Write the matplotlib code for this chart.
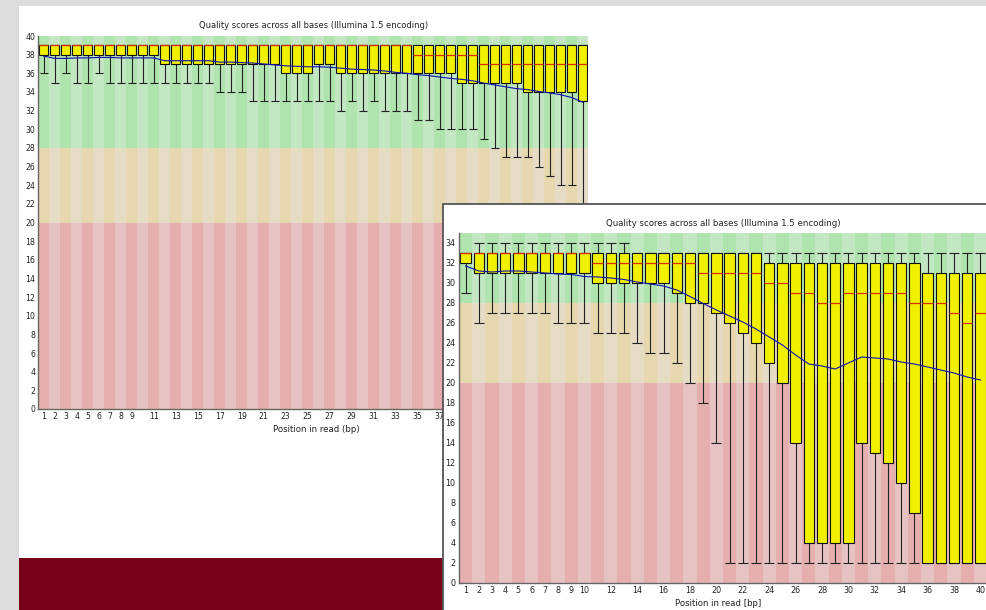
import matplotlib
matplotlib.use("Agg")
import matplotlib.pyplot as plt
from matplotlib.patches import Rectangle
import numpy as np

W, H = 986, 610  # output size in pixels (dpi 100)

TITLE = "Quality scores across all bases (Illumina 1.5 encoding)"

# ---------------------------------------------------------------------------
# Back report: 50 positions, Phred 0-40
# ---------------------------------------------------------------------------
r1_labels = ["1", "2", "3", "4", "5", "6", "7", "8", "9", "11", "13", "15", "17", "19",
             "21", "23", "25", "27", "29", "31", "33", "35", "37", "39", "41", "43", "45",
             "47", "49"]
r1_q3 = [39, 39, 39, 39, 39, 39, 39, 39, 39, 39, 39, 39, 39, 39, 39, 39, 39, 39, 39, 39, 39,
         39, 39, 39, 39, 39, 39, 39, 39, 39, 39, 39, 39, 39, 39, 39, 39, 39, 39, 39, 39, 39,
         39, 39, 39, 39, 39, 39, 39, 39]
r1_q1 = [38, 38, 38, 38, 38, 38, 38, 38, 38, 38, 38, 37, 37, 37, 37, 37, 37, 37, 37, 37, 37,
         37, 36, 36, 36, 37, 37, 36, 36, 36, 36, 36, 36, 36, 36, 36, 36, 36, 35, 35, 35, 35,
         35, 35, 34, 34, 34, 34, 34, 33]
r1_med = [39, 39, 39, 39, 39, 39, 39, 39, 39, 39, 39, 39, 39, 39, 39, 39, 39, 39, 39, 39, 39,
          39, 39, 39, 39, 39, 39, 39, 39, 39, 39, 39, 39, 39, 38, 38, 38, 38, 38, 38, 37, 37,
          37, 37, 37, 37, 37, 37, 37, 37]
r1_low = [36, 35, 36, 35, 35, 36, 35, 35, 35, 35, 35, 35, 35, 35, 35, 35, 34, 34, 34, 33, 33,
          33, 33, 33, 33, 33, 33, 32, 33, 32, 33, 32, 32, 32, 31, 31, 30, 30, 30, 30, 29, 28,
          27, 27, 27, 26, 25, 24, 24, 22]
r1_high = r1_q3
r1_mean = [37.85, 37.6, 37.6, 37.65, 37.65, 37.7, 37.7, 37.65, 37.65, 37.65, 37.65, 37.35,
           37.35, 37.35, 37.35, 37.35, 37.2, 37.2, 37.15, 37.1, 37.0, 36.9, 36.8, 36.75, 36.7,
           36.7, 36.65, 36.55, 36.45, 36.4, 36.35, 36.25, 36.1, 36.0, 35.85, 35.75, 35.6,
           35.45, 35.35, 35.2, 34.95, 34.75, 34.55, 34.35, 34.25, 34.05, 33.9, 33.7, 33.4, 32.9]

# ---------------------------------------------------------------------------
# Front report: 40 positions, Phred 0-35
# ---------------------------------------------------------------------------
r2_labels = ["1", "2", "3", "4", "5", "6", "7", "8", "9", "10", "12", "14", "16", "18", "20",
             "22", "24", "26", "28", "30", "32", "34", "36", "38", "40"]
r2_q3 = [33, 33, 33, 33, 33, 33, 33, 33, 33, 33, 33, 33, 33, 33, 33, 33, 33, 33, 33, 33, 33,
         33, 33, 32, 32, 32, 32, 32, 32, 32, 32, 32, 32, 32, 32, 31, 31, 31, 31, 31]
r2_q1 = [32, 31, 31, 31, 31, 31, 31, 31, 31, 31, 30, 30, 30, 30, 30, 30, 29, 28, 28, 27, 26,
         25, 24, 22, 20, 14, 4, 4, 4, 4, 14, 13, 12, 10, 7, 2, 2, 2, 2, 2]
r2_med = [33, 33, 33, 33, 33, 33, 33, 33, 33, 33, 32, 32, 32, 32, 32, 32, 32, 32, 31, 31, 31,
          31, 31, 30, 30, 29, 29, 28, 28, 29, 29, 29, 29, 29, 28, 28, 28, 27, 26, 27]
r2_low = [29, 26, 27, 27, 27, 27, 27, 26, 26, 26, 25, 25, 25, 24, 23, 23, 22, 20, 18, 14, 2,
          2, 2, 2, 2, 2, 2, 2, 2, 2, 2, 2, 2, 2, 2, 2, 2, 2, 2, 2]
r2_high = [33, 34, 34, 34, 34, 34, 34, 34, 34, 34, 34, 34, 34, 33, 33, 33, 33, 33, 33, 33, 33,
           33, 33, 33, 33, 33, 33, 33, 33, 33, 33, 33, 33, 33, 33, 33, 33, 33, 33, 33]
r2_mean = [31.7, 31.2, 31.1, 31.2, 31.2, 31.1, 31.0, 30.9, 30.85, 30.65, 30.6, 30.5, 30.35,
           30.1, 29.9, 29.7, 29.3, 28.65, 27.95, 27.3, 26.7, 26.1, 25.4, 24.6, 23.8, 22.8,
           21.9, 21.7, 21.4, 22.0, 22.6, 22.5, 22.4, 22.1, 21.9, 21.6, 21.3, 21.0, 20.6, 20.3]

# FastQC background bands: (lower, upper, dark colour, light colour)
BANDS = [(0, 20, "#e6afaf", "#e6c3c3"),
         (20, 28, "#e6d7af", "#e6dcc6"),
         (28, 99, "#afe4af", "#c3e6c3")]


def px_axes(fig, x0, y0, x1, y1):
    """Axes placed by pixel box (top-left origin)."""
    return fig.add_axes([x0 / W, 1 - y1 / H, (x1 - x0) / W, (y1 - y0) / H])


def draw_report(ax, q1, q3, med, low, high, mean, labels, ymax, fs, tick_pad):
    n = len(q1)
    pos = np.arange(1, n + 1)

    for lo, hi, dark, light in BANDS:
        top = min(hi, ymax)
        cols = [dark if p % 2 == 1 else light for p in pos]
        ax.bar(pos, top - lo, bottom=lo, width=1.0, color=cols, linewidth=0, zorder=0)

    q1 = np.array(q1)
    q3 = np.array(q3)
    ax.vlines(pos, low, q1, color="#222222", lw=0.8, zorder=1)
    ax.vlines(pos, q3, high, color="#222222", lw=0.8, zorder=1)
    ax.hlines(low, pos - 0.38, pos + 0.38, color="#222222", lw=0.8, zorder=1)
    ax.hlines(high, pos - 0.38, pos + 0.38, color="#222222", lw=0.8, zorder=1)

    ax.bar(pos, q3 - q1, bottom=q1, width=0.78, color="#f0f000",
           edgecolor="#111111", linewidth=0.8, zorder=2)
    ax.hlines(med, pos - 0.39, pos + 0.39, color="#d83000", lw=0.9, zorder=3)
    ax.plot(pos, mean, color="#1010b0", lw=0.8, zorder=4)

    ax.set_xlim(0.5, n + 0.5)
    ax.set_ylim(0, ymax)
    ax.set_xticks([int(t) for t in labels])
    ax.set_xticklabels(labels, fontsize=fs)
    ax.set_yticks(np.arange(0, ymax + 1, 2))
    ax.tick_params(length=0, labelsize=fs, colors="#222222")
    ax.tick_params(axis="x", pad=tick_pad[0])
    ax.tick_params(axis="y", pad=tick_pad[1])
    for side in ("top", "right"):
        ax.spines[side].set_visible(False)
    for side in ("left", "bottom"):
        ax.spines[side].set_color("#666666")
        ax.spines[side].set_linewidth(1.0)
    ax.set_facecolor("white")


fig = plt.figure(figsize=(W / 100, H / 100), dpi=100)
fig.patch.set_facecolor("#dcdcdc")

# page-like white panel and the dark red footer strip
fig.add_artist(Rectangle((19 / W, 1 - 558 / H), 1, (558 - 6) / H, transform=fig.transFigure,
                         facecolor="white", edgecolor="none", zorder=0.1))
fig.add_artist(Rectangle((19 / W, 0), 1, (610 - 558) / H, transform=fig.transFigure,
                         facecolor="#78001a", edgecolor="none", zorder=0.2))

# back report
ax1 = px_axes(fig, 38.2, 36, 588.2, 409)
ax1.set_zorder(1)
draw_report(ax1, r1_q1, r1_q3, r1_med, r1_low, r1_high, r1_mean, r1_labels,
            ymax=40, fs=5.6, tick_pad=(2.0, 2.0))
ax1.text(0.5, 1 + 11 / 373, TITLE, transform=ax1.transAxes, ha="center", va="center",
         fontsize=6.0, color="#222222")
ax1.text(0.505, -21 / 373, "Position in read (bp)", transform=ax1.transAxes, ha="center",
         va="center", fontsize=6.2, color="#222222")

# front report panel, partly off the right and bottom edges
fig.add_artist(Rectangle((443 / W, -0.1), 1, 0.1 + (610 - 204) / H, transform=fig.transFigure,
                         facecolor="white", edgecolor="#555555", linewidth=1.3, zorder=2))
ax2 = px_axes(fig, 459, 233, 459 + 40 * 13.2, 583)
ax2.set_zorder(3)
draw_report(ax2, r2_q1, r2_q3, r2_med, r2_low, r2_high, r2_mean, r2_labels,
            ymax=35, fs=5.8, tick_pad=(2.4, 2.6))
ax2.text(0.5, 1 + 10 / 350, TITLE, transform=ax2.transAxes, ha="center", va="center",
         fontsize=6.2, color="#222222")
ax2.text(0.49, -20 / 350, "Position in read [bp]", transform=ax2.transAxes, ha="center",
         va="center", fontsize=6.1, color="#222222")

fig.savefig("out.png", dpi=100, facecolor=fig.get_facecolor())
